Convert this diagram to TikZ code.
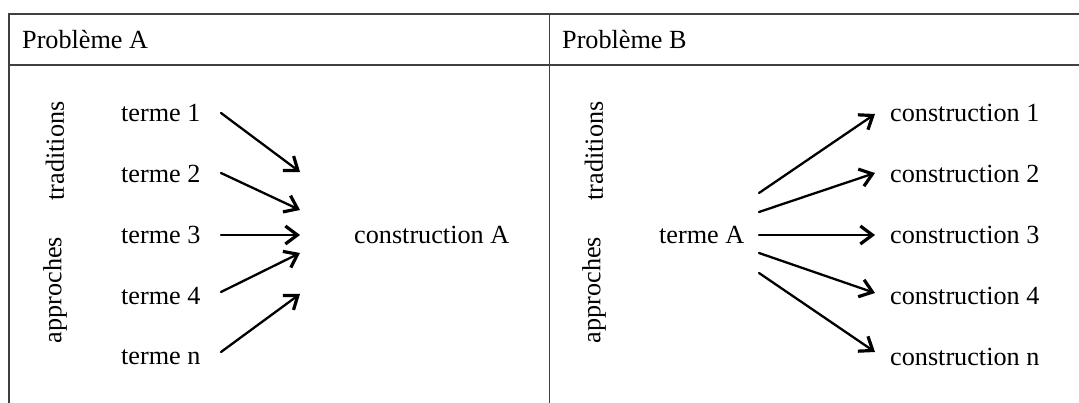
\documentclass[tikz,border=0pt]{standalone}
\usepackage{fontspec}
\setmainfont{Liberation Serif}
\usetikzlibrary{arrows.meta}
\begin{document}
\begin{tikzpicture}[x=1pt,y=-1pt,
  frame/.style={draw=black!75,line width=1.5pt},
  lbl/.style={inner sep=0pt,font=\fontsize{26.2}{30}\selectfont,text=black},
  side/.style={lbl,rotate=90},
  arr/.style={line width=2.3pt,line cap=round,-{Straight Barb[length=12pt,width=18pt,line width=3.2pt]}}]
\useasboundingbox (0,0) rectangle (1079,403);
\fill[white] (0,0) rectangle (1079,403);
% table frame
\draw[frame] (9,403) -- (9,14) -- (1079,14);
\draw[frame] (9,65) -- (1079,65);
\draw[frame] (549.5,14) -- (549.5,403);
% headers
\node[lbl,anchor=west] (pa) at (22,40) {Problème A};
\node[lbl,anchor=west] (pb) at (562,40) {Problème B};
% left panel
\node[side] (tradA) at (55,151) {traditions};
\node[side] (appA) at (55,290) {approches};
\node[lbl,anchor=west] (t1) at (121,113) {terme 1};
\node[lbl,anchor=west] (t2) at (121,174) {terme 2};
\node[lbl,anchor=west] (t3) at (121,235) {terme 3};
\node[lbl,anchor=west] (t4) at (121,296) {terme 4};
\node[lbl,anchor=west] (tn) at (121,357) {terme n};
\node[lbl,anchor=west] (cA) at (354,235) {construction A};
\coordinate (a1) at (300,172);
\coordinate (a2) at (300,210);
\coordinate (a3) at (300,235);
\coordinate (a4) at (300,253);
\coordinate (a5) at (300,294);
\coordinate (s1) at (221,113);
\coordinate (s2) at (221,173);
\coordinate (s3) at (221,235);
\coordinate (s4) at (221,292);
\coordinate (s5) at (221,352);
\draw[arr] (s1) -- (a1);
\draw[arr] (s2) -- (a2);
\draw[arr] (s3) -- (a3);
\draw[arr] (s4) -- (a4);
\draw[arr] (s5) -- (a5);
% right panel
\node[side] (tradB) at (594,151) {traditions};
\node[side] (appB) at (594,290) {approches};
\node[lbl,anchor=west] (tA) at (659,235) {terme A};
\node[lbl,anchor=west] (c1) at (890,113) {construction 1};
\node[lbl,anchor=west] (c2) at (890,174) {construction 2};
\node[lbl,anchor=west] (c3) at (890,235) {construction 3};
\node[lbl,anchor=west] (c4) at (890,296) {construction 4};
\node[lbl,anchor=west] (cn) at (890,357) {construction n};
\coordinate (b1) at (759,193);
\coordinate (b2) at (759,212);
\coordinate (b3) at (759,235);
\coordinate (b4) at (759,253);
\coordinate (b5) at (759,273);
\coordinate (e1) at (875,114);
\coordinate (e2) at (875,173);
\coordinate (e3) at (875,235);
\coordinate (e4) at (875,293);
\coordinate (e5) at (875,352);
\draw[arr] (b1) -- (e1);
\draw[arr] (b2) -- (e2);
\draw[arr] (b3) -- (e3);
\draw[arr] (b4) -- (e4);
\draw[arr] (b5) -- (e5);
\end{tikzpicture}
\end{document}
